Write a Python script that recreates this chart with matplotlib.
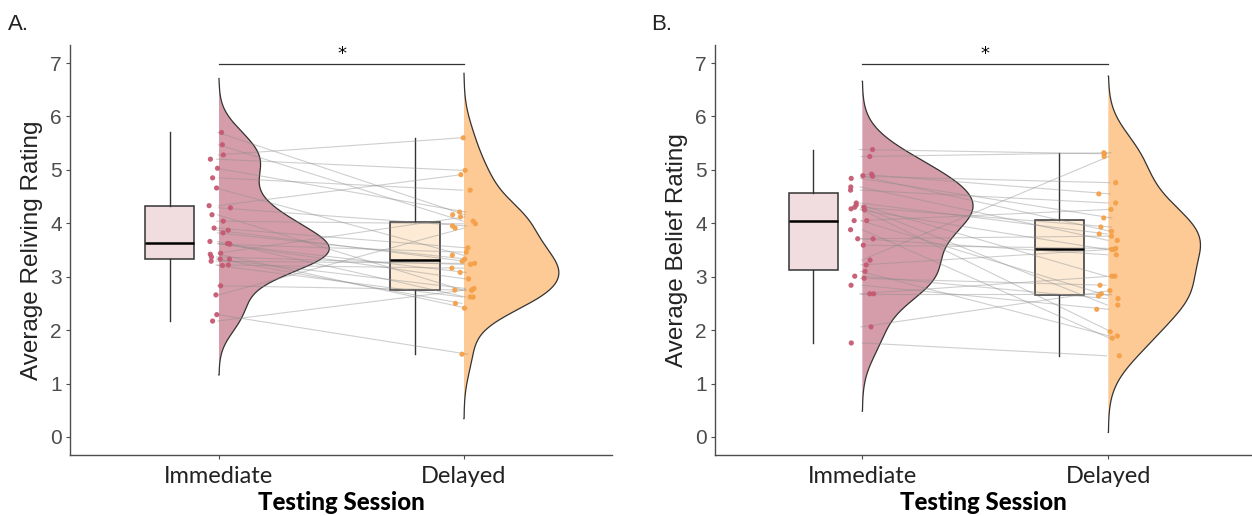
import numpy as np
import matplotlib
matplotlib.use("Agg")
import matplotlib.pyplot as plt

# ---------------- data ----------------
sessions = ["Immediate", "Delayed"]

reliving_immediate = [5.70, 5.47, 5.28, 5.20, 5.03, 4.85, 4.66, 4.33, 4.29, 4.16,
                      4.04, 3.91, 3.87, 3.82, 3.66, 3.62, 3.61, 3.62, 3.44, 3.42,
                      3.37, 3.33, 3.33, 3.29, 3.22, 3.21, 2.83, 2.66, 2.29, 2.17]
reliving_delayed = [4.16, 4.04, 5.60, 4.99, 4.21, 4.62, 3.40, 4.91, 3.95, 2.75,
                    3.99, 3.54, 3.29, 3.33, 2.62, 3.08, 3.46, 2.96, 4.12, 2.41,
                    3.23, 2.78, 2.50, 3.25, 3.16, 2.62, 2.75, 3.91, 1.55, 2.75]

belief_immediate = [5.38, 5.25, 4.92, 4.89, 4.88, 4.84, 4.68, 4.62, 4.38, 4.34,
                    4.30, 4.30, 4.27, 4.25, 4.05, 4.05, 3.88, 3.71, 3.71, 3.59,
                    3.31, 3.22, 3.10, 3.01, 2.97, 2.84, 2.68, 2.68, 2.06, 1.76]
belief_delayed = [5.30, 5.32, 4.55, 3.85, 4.76, 4.10, 3.68, 4.38, 3.80, 3.01,
                  2.47, 3.93, 1.97, 3.51, 4.26, 2.64, 1.85, 3.76, 3.41, 3.53,
                  5.25, 3.51, 1.89, 2.59, 2.84, 2.39, 3.01, 2.68, 2.74, 1.52]

y_ticks = [0, 1, 2, 3, 4, 5, 6, 7]
panel_labels = ["A.", "B."]
y_labels = ["Average Reliving Rating", "Average Belief Rating"]
x_label = "Testing Session"
sig_text = "*"

# ---------------- style ----------------
violin_fill = ["#D59DAA", "#FDC994"]
point_col = ["#C45A72", "#F4A047"]
box_fill = ["#F1DCE0", "#FDEBD6"]
edge = "#333333"
tick_col = "#4D4D4D"


def nrd0(x):
    x = np.asarray(x)
    sd = x.std(ddof=1)
    iqr = np.subtract(*np.percentile(x, [75, 25]))
    lo = min(sd, iqr / 1.34)
    return 0.9 * lo * len(x) ** (-0.2)


def kde(x, bw, grid):
    x = np.asarray(x)[:, None]
    z = (grid[None, :] - x) / bw
    return np.exp(-0.5 * z ** 2).sum(0) / (len(x) * bw * np.sqrt(2 * np.pi))


fig = plt.figure(figsize=(12.52, 5.16), dpi=100)
axes = [fig.add_axes([70 / 1252, 61 / 516, 542 / 1252, 410 / 516]),
        fig.add_axes([715 / 1252, 61 / 516, 537 / 1252, 410 / 516])]
xlims = [(0.392, 2.604), (0.401, 2.584)]

datasets = [(reliving_immediate, reliving_delayed), (belief_immediate, belief_delayed)]
rng = np.random.default_rng(7)

for k, ax in enumerate(axes):
    groups = datasets[k]
    pos = [1, 2]
    # densities
    dens = []
    for g in groups:
        bw = nrd0(g)
        grid = np.linspace(min(g) - 3 * bw, max(g) + 3 * bw, 512)
        dens.append((grid, kde(g, bw, grid)))
    dmax = max(d.max() for _, d in dens)
    maxw = 0.45
    for i, (grid, d) in enumerate(dens):
        w = d / dmax * maxw
        ax.fill_betweenx(grid, pos[i], pos[i] + w, facecolor=violin_fill[i],
                         edgecolor="none", zorder=1)
        xs = np.concatenate([[pos[i]], pos[i] + w, [pos[i]]])
        ys = np.concatenate([[grid[0]], grid, [grid[-1]]])
        ax.plot(xs, ys, color=edge, lw=0.9, zorder=2)

    # boxes
    bp = ax.boxplot(groups, positions=[0.8, 1.8], widths=0.2, patch_artist=True,
                    showfliers=False, showcaps=False, whis=1.5,
                    medianprops=dict(color="black", lw=1.8),
                    whiskerprops=dict(color=edge, lw=1.0),
                    boxprops=dict(edgecolor=edge, lw=1.1), zorder=3,
                    manage_ticks=False)
    for i, patch in enumerate(bp["boxes"]):
        patch.set_facecolor(box_fill[i])

    # paired lines
    n = len(groups[0])
    j1 = rng.uniform(-0.012, 0.0, n)
    j2 = rng.uniform(-0.01, 0.015, n)
    for a, b, xa, xb in zip(groups[0], groups[1], j1, j2):
        ax.plot([1 + xa, 2 + xb], [a, b], color="#8c8c8c", alpha=0.42, lw=0.8, zorder=4)

    # points
    for i, g in enumerate(groups):
        jit = rng.uniform(-0.05, 0.05, len(g))
        ax.scatter(pos[i] + jit, g, s=14, color=point_col[i], edgecolors="none",
                   zorder=5, alpha=0.95)

    # significance bar
    ax.plot([1, 2], [6.99, 6.99], color=edge, lw=0.9, zorder=6)
    ax.text(1.5, 7.0, sig_text, ha="center", va="bottom", fontsize=13,
            family="DejaVu Sans", color="black")

    ax.set_xlim(*xlims[k])
    ax.set_ylim(-0.337, 7.337)
    ax.set_yticks(y_ticks)
    ax.set_yticklabels([str(t) for t in y_ticks], family="Liberation Sans",
                       fontsize=15, color=tick_col)
    ax.set_xticks([1, 2])
    ax.set_xticklabels(sessions, family="Lato", fontsize=17, color="#222222")
    ax.tick_params(axis="both", length=3, width=0.8, color=tick_col, pad=3)
    ax.tick_params(axis="x", pad=5)
    for s in ["top", "right"]:
        ax.spines[s].set_visible(False)
    for s in ["left", "bottom"]:
        ax.spines[s].set_color(tick_col)
        ax.spines[s].set_linewidth(1.0)
    ax.set_ylabel(y_labels[k], family="Liberation Sans", fontsize=17.5,
                  color="#222222", labelpad=5)
    ax.set_xlabel(x_label, family="Lato", fontweight="black", fontsize=17.3,
                  color="black", labelpad=3)

fig.text(8 / 1252, 1 - 30 / 516, panel_labels[0], family="Liberation Sans",
         fontsize=16, color="#222222")
fig.text(651 / 1252, 1 - 30 / 516, panel_labels[1], family="Liberation Sans",
         fontsize=16, color="#222222")

fig.savefig("out.png", dpi=100)
